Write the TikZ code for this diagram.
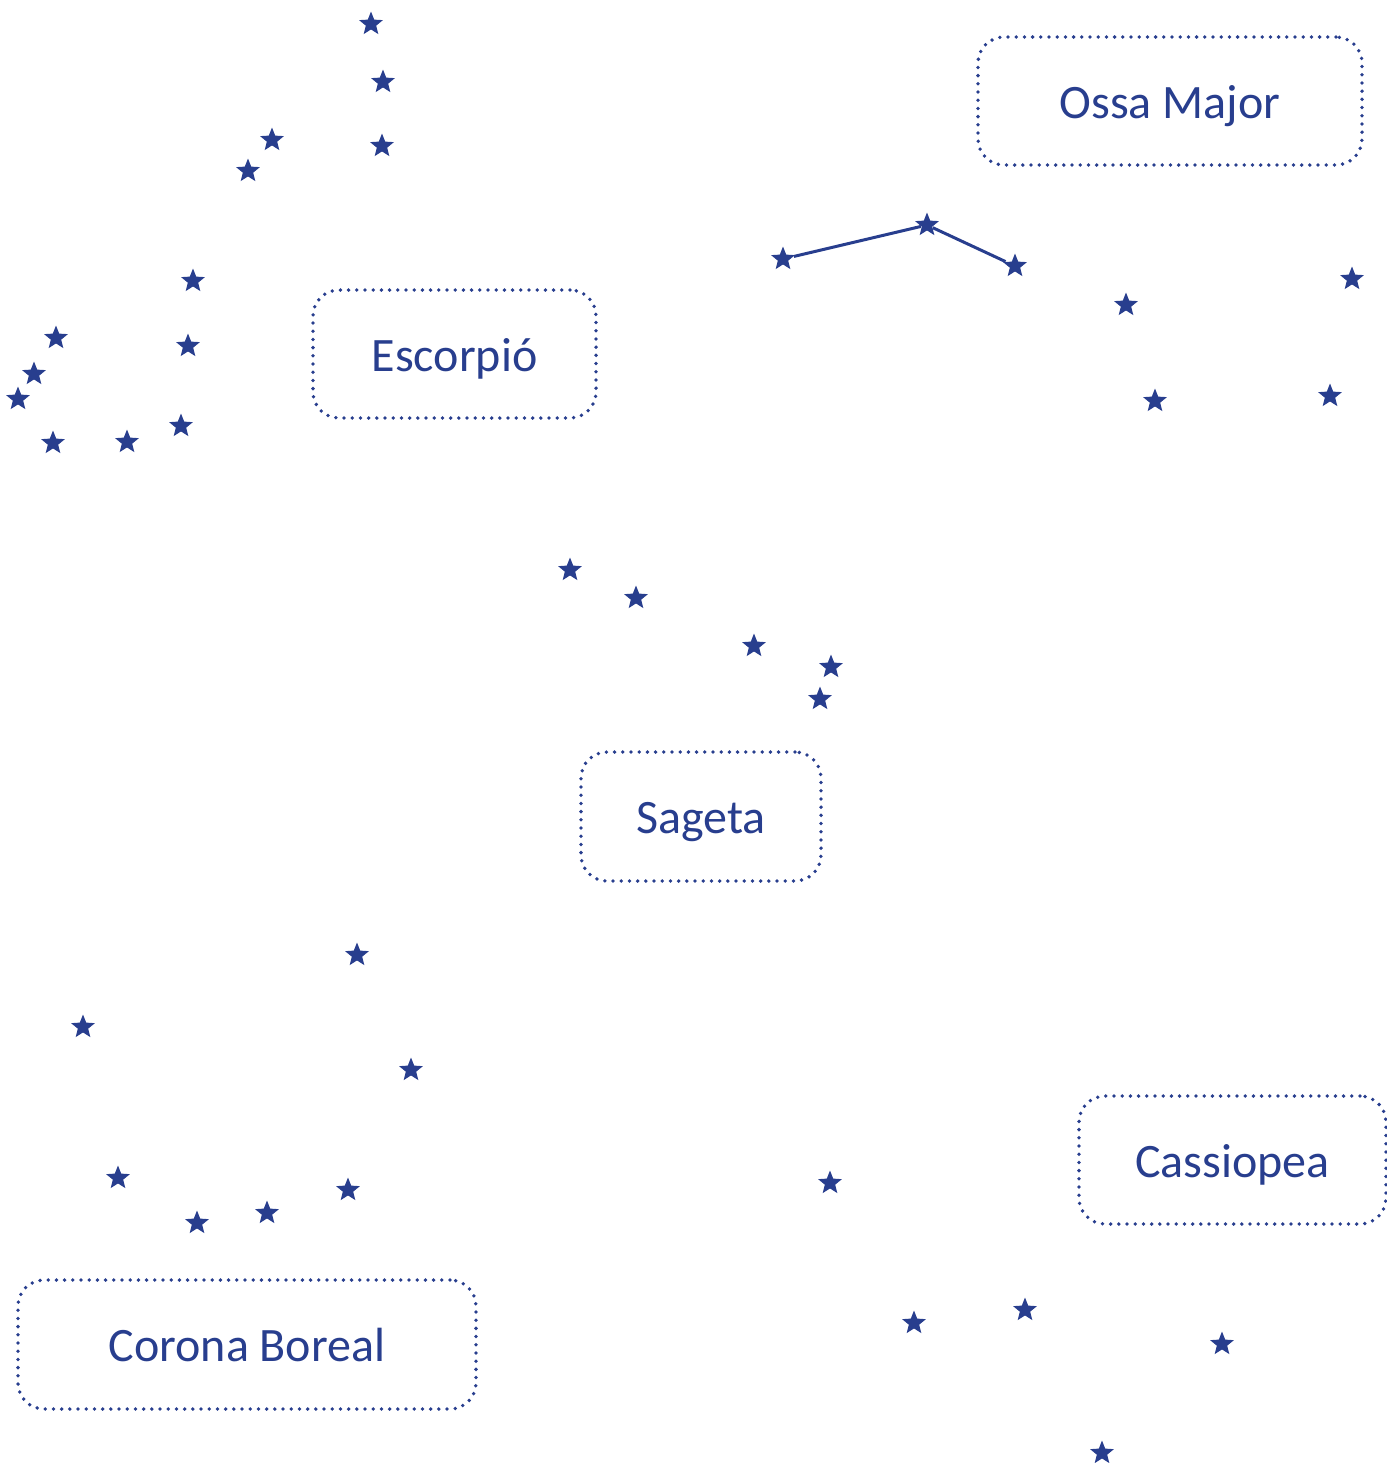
\documentclass[tikz,border=0pt]{standalone}
\usepackage{fontspec}
\setmainfont{Carlito}
\usetikzlibrary{shapes.geometric}
\definecolor{navy}{RGB}{40,62,142}
\tikzset{
  st/.style={star, star points=5, star point ratio=2.3, fill=navy, draw=none, inner sep=0pt, minimum size=12.5pt},
  lbl/.style={draw=navy, line width=1.9pt, dash pattern=on 0pt off 4.1pt, line cap=round, rounded corners=13pt, text=navy, font=\fontsize{24}{28}\selectfont, inner sep=0pt, text height=17pt, text depth=0pt},
  link/.style={draw=navy, line width=1.5pt}
}
\begin{document}
\begin{tikzpicture}[x=0.5pt,y=-0.5pt]
\useasboundingbox (0,0) rectangle (1387,1463);
% labels
\node[lbl, minimum width=192pt, minimum height=64pt] (ossa) at (1170,101) {Ossa Major};
\node[lbl, minimum width=141.5pt, minimum height=64pt] (esc) at (454.5,354) {Escorpió};
\node[lbl, minimum width=120pt, minimum height=64.5pt] (sag) at (701,816.5) {Sageta};
\node[lbl, minimum width=153.5pt, minimum height=64pt] (cas) at (1232.5,1160) {Cassiopea};
\node[lbl, minimum width=229pt, minimum height=64.5pt] (cor) at (247,1344.5) {Corona Boreal};
% top group
\node[st] (t1) at (371,24) {};
\node[st] (t2) at (383,82) {};
\node[st] (t3) at (382,146) {};
\node[st] (t4) at (272,140) {};
\node[st] (t5) at (248,171) {};
% left group
\node[st] (l1) at (193,281) {};
\node[st] (l2) at (188,346) {};
\node[st] (l3) at (181,426) {};
\node[st] (l4) at (56,338) {};
\node[st] (l5) at (34,374) {};
\node[st] (l6) at (18,399) {};
\node[st] (l7) at (53,443) {};
\node[st] (l8) at (127,442) {};
% ossa major group
\node[st] (o1) at (783,259) {};
\node[st] (o2) at (927,225) {};
\node[st] (o3) at (1015,266) {};
\node[st] (o4) at (1126,305) {};
\node[st] (o5) at (1352,279) {};
\node[st] (o6) at (1155,401) {};
\node[st] (o7) at (1330,396) {};
% middle group
\node[st] (m1) at (570,570) {};
\node[st] (m2) at (636,598) {};
\node[st] (m3) at (754,646) {};
\node[st] (m4) at (831,667) {};
\node[st] (m5) at (820,699) {};
% bottom left group
\node[st] (b1) at (357,955) {};
\node[st] (b2) at (83,1027) {};
\node[st] (b3) at (411,1070) {};
\node[st] (b4) at (118,1178) {};
\node[st] (b5) at (197,1223) {};
\node[st] (b6) at (267,1213) {};
\node[st] (b7) at (348,1190) {};
% bottom right group
\node[st] (r1) at (830,1183) {};
\node[st] (r2) at (914,1323) {};
\node[st] (r3) at (1025,1310) {};
\node[st] (r4) at (1222,1344) {};
\node[st] (r5) at (1102,1453) {};
% connectors
\draw[link] (o1) -- (o2) -- (o3);
\end{tikzpicture}
\end{document}
